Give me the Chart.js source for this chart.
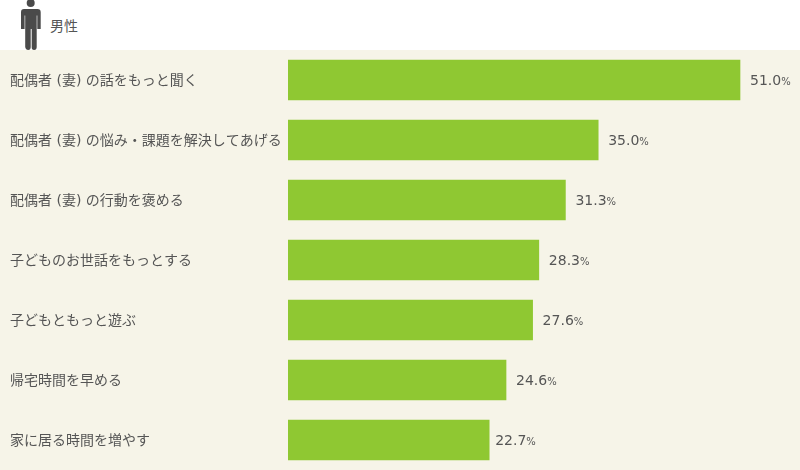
<!DOCTYPE html>
<html lang="ja">
<head>
<meta charset="utf-8">
<title>男性</title>
<script src="https://cdn.jsdelivr.net/npm/chart.js@4"></script>
<style>
  html, body { margin: 0; padding: 0; background: #fff; overflow: hidden; }
  #head { position: relative; width: 800px; height: 50px; background: #fff; }
  #head svg { position: absolute; left: 20px; top: 0; }
  #head span {
    position: absolute; left: 50px; top: 15px; line-height: 20px;
    font: 14px "Noto Sans CJK JP", sans-serif; color: #555;
  }
  #myChart { display: block; }
</style>
</head>
<body>
<div id="head">
  <svg width="22" height="50" viewBox="0 0 22 50">
    <circle cx="10.7" cy="3" r="4" fill="#4a4a4a"/>
    <path fill="#4a4a4a" d="M4 9h13.5q3.2 0 3.2 3.2V29h-3.4V15.5h-.6V47q0 3-2.6 3t-2.4-3V29h-1V47q0 3-2.5 3T5.2 47V15.5h-.6V29H1V12.2Q1 9 4 9z"/>
  </svg>
  <span>男性</span>
</div>
<canvas id="myChart" width="800" height="420"></canvas>
<script>
const categories = [
  '配偶者 (妻) の話をもっと聞く',
  '配偶者 (妻) の悩み・課題を解決してあげる',
  '配偶者 (妻) の行動を褒める',
  '子どものお世話をもっとする',
  '子どもともっと遊ぶ',
  '帰宅時間を早める',
  '家に居る時間を増やす'
];
const values = [51.0, 35.0, 31.3, 28.3, 27.6, 24.6, 22.7];

const textColor = '#555555';

// paints the cream panel behind the bars
const panelBackground = {
  id: 'panelBackground',
  beforeDraw(chart) {
    const ctx = chart.ctx;
    ctx.save();
    ctx.fillStyle = '#f6f4e8';
    ctx.fillRect(0, 0, chart.width, chart.height);
    ctx.restore();
  }
};

// value next to each bar, the % sign is smaller than the number
const valueLabels = {
  id: 'valueLabels',
  afterDatasetsDraw(chart) {
    const ctx = chart.ctx;
    const bars = chart.getDatasetMeta(0).data;
    ctx.save();
    ctx.fillStyle = textColor;
    ctx.textBaseline = 'middle';
    ctx.textAlign = 'left';
    bars.forEach((bar, i) => {
      const num = values[i].toFixed(1);
      let x = bar.x + (i === bars.length - 1 ? 6 : 10);
      ctx.font = '14px "DejaVu Sans"';
      ctx.fillText(num, x, bar.y + 1);
      x += ctx.measureText(num).width;
      ctx.font = '10px "DejaVu Sans"';
      ctx.fillText('%', x, bar.y + 2);
    });
    ctx.restore();
  }
};

new Chart(document.getElementById('myChart'), {
  type: 'bar',
  data: {
    labels: categories,
    datasets: [{
      data: values,
      backgroundColor: '#8fc832',
      barThickness: 40,
      categoryPercentage: 1,
      barPercentage: 1
    }]
  },
  options: {
    indexAxis: 'y',
    responsive: false,
    animation: false,
    devicePixelRatio: 1,
    layout: { padding: { left: 10 } },
    plugins: {
      legend: { display: false },
      title: { display: false },
      tooltip: { enabled: false }
    },
    scales: {
      x: {
        display: false,
        min: 0,
        max: 57.77
      },
      y: {
        border: { display: false },
        grid: { display: false },
        afterFit(axis) {
          axis.width = 278;
          axis.paddingTop = 0;
          axis.paddingBottom = 0;
        },
        ticks: {
          crossAlign: 'far',
          autoSkip: false,
          padding: 7,
          labelOffset: 1,
          color: textColor,
          font: { family: '"DejaVu Sans", "Noto Sans CJK JP", sans-serif', size: 14 }
        }
      }
    }
  },
  plugins: [panelBackground, valueLabels]
});
</script>
</body>
</html>
